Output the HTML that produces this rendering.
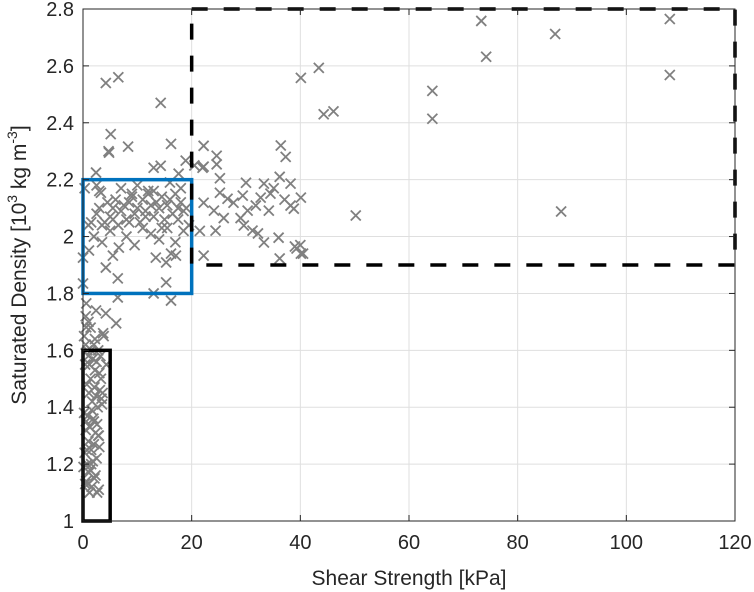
<!DOCTYPE html>
<html><head><meta charset="utf-8"><style>
html,body{margin:0;padding:0;background:#fff;}
svg{display:block;font-family:"Liberation Sans",Arial,sans-serif;}
</style></head><body>
<svg id="chart" width="754" height="592" viewBox="0 0 754 592" xmlns="http://www.w3.org/2000/svg">
<g id="grid"></g>
<g id="pts"></g>
<g id="boxes"></g>
<g id="axes"></g>
<text x="409" y="585" font-size="21" fill="#262626" text-anchor="middle">Shear Strength [kPa]</text>
<text transform="translate(26,265) rotate(-90)" font-size="21" fill="#262626" text-anchor="middle">Saturated Density [10<tspan font-size="14" dy="-9">3</tspan><tspan dy="9"> kg m</tspan><tspan font-size="14" dy="-9">-3</tspan><tspan dy="9">]</tspan></text>
</svg>
<script>
const xTicks=[0,20,40,60,80,100,120];
const yTicks=[1,1.2,1.4,1.6,1.8,2,2.2,2.4,2.6,2.8];
const yTickLabels=["1","1.2","1.4","1.6","1.8","2","2.2","2.4","2.6","2.8"];
const strength=[108,108,86.9,88,73.3,74.2,64.3,64.3,50.2,43.4,40.1,44.3,46.1,40,40.5,39,36.4,37.3,
4.8,8.3,16.2,2.4,13,14.3,18.9,17.6,22,3.3,6.6,13.4,4.2,6.4,15.3,16.2,17.1,15.3,5.5,1.1,0,0,6.4,13,16.2,0.6,2.4,4.2,6.1,0.6,3.7,
4.2,6.5,14.3,5.1,4.7,
22.2,24.6,22.2,24.6,25.2,30,33.3,38.2,25.2,35.1,34.5,40.1,26.6,27.7,29.4,22.2,32.7,31.8,38.2,38.8,24.1,34.2,30.3,25.9,29,29.6,24.4,31.2,32.2,33.3,36,39.3,40.1,22.2,36.2,36.2,37.1,20.5,21.5,
1.5,2.5,3,3.5,4.5,5,5.5,6,7,7.5,8,8.5,9,9.5,10,10.5,11,11.5,12,12.5,13,13.5,14,14.5,15,15.5,16,16.5,17,17.5,18,18.5,19,2,3.5,5,6.5,8,9.5,11,12.5,14,15.5,17,18.5,1,3,7,10,12,16,18,2.5,5.5,8.5,11.5,14.5,17.5,19.5,4,9,13,
0.3,0.5,0.8,1,1.2,1.5,1.8,2,2.2,2.5,2.8,3,3.2,0.4,0.7,1.1,1.4,1.7,2.1,2.4,2.7,3.1,3.4,0.2,0.6,0.9,1.3,1.6,1.9,2.3,2.6,2.9,0.5,1,1.5,2,2.5,3,0.3,0.8,1.3,1.8,2.3,0.1,0.6,1.1,1.6,2.1,2.6,3.3,3.6,0.4,1.2,2,2.8,0.7,1.5,0.2,1,0.5,1.4,2.2,3.8,4.3,3.5,2.9,0.9,1.7];
const density=[2.765,2.568,2.712,2.088,2.758,2.632,2.512,2.414,2.074,2.593,2.558,2.43,2.44,1.97,1.94,1.965,2.32,2.28,
2.295,2.316,2.326,2.225,2.242,2.249,2.267,2.221,2.242,2.154,1.961,1.926,1.891,1.853,1.839,1.94,1.933,1.909,1.933,1.951,1.926,1.835,1.786,1.8,1.775,1.765,1.74,1.73,1.695,1.681,1.66,
2.54,2.56,2.47,2.36,2.3,
2.319,2.284,2.246,2.254,2.205,2.189,2.186,2.186,2.154,2.17,2.151,2.137,2.133,2.119,2.144,2.119,2.137,2.109,2.109,2.098,2.091,2.091,2.091,2.065,2.065,2.039,2.021,2.021,2.011,1.979,1.996,1.958,1.94,1.933,1.923,2.21,2.13,2.25,2.02,
2.05,2.08,2.1,2.04,2.12,2.07,2.1,2.13,2.09,2.11,2.06,2.12,2.14,2.08,2.1,2.05,2.13,2.09,2.15,2.11,2.07,2.12,2.1,2.14,2.06,2.11,2.13,2.08,2.15,2.1,2.12,2.09,2.1,2.0,1.98,2.02,2.04,2.0,1.97,2.03,2.01,1.99,2.03,1.98,2.02,2.04,2.16,2.17,2.18,2.16,2.19,2.17,2.18,2.06,2.05,2.07,2.03,2.06,2.04,2.05,2.15,2.16,2.17,
1.62,1.6,1.58,1.55,1.6,1.57,1.62,1.53,1.56,1.6,1.52,1.58,1.55,1.48,1.45,1.5,1.42,1.47,1.44,1.4,1.46,1.43,1.38,1.35,1.37,1.33,1.39,1.36,1.31,1.34,1.3,1.32,1.28,1.25,1.27,1.22,1.26,1.24,1.2,1.18,1.21,1.16,1.19,1.14,1.17,1.12,1.15,1.1,1.5,1.45,1.13,1.1,1.35,1.3,1.25,1.2,1.65,1.7,1.72,1.68,1.64,1.65,1.55,1.41,1.11,1.13];
const NS="http://www.w3.org/2000/svg";
const L=83,R=735,T=9,B=521;
const xs=v=>L+(v-0)/120*(R-L);
const ys=v=>B-(v-1)/1.8*(B-T);
function mk(tag,attrs,parent){const e=document.createElementNS(NS,tag);for(const k in attrs)e.setAttribute(k,attrs[k]);parent.appendChild(e);return e;}
const grid=document.getElementById('grid'),axes=document.getElementById('axes'),pts=document.getElementById('pts'),boxes=document.getElementById('boxes');
xTicks.forEach(t=>{
 const g=mk('line',{x1:xs(t),x2:xs(t),y1:T,y2:B,stroke:'#dfdfdf','stroke-width':1},grid);
 
 
 mk('line',{x1:xs(t),x2:xs(t),y1:B,y2:B-6,stroke:'#262626','stroke-width':1},axes);
 mk('line',{x1:xs(t),x2:xs(t),y1:T,y2:T+6,stroke:'#262626','stroke-width':1},axes);
 const tx=mk('text',{x:xs(t),y:B+28,'font-size':20,fill:'#262626','text-anchor':'middle'},axes);
 tx.textContent=t;
 
 
});
yTicks.forEach((t,i)=>{
 const g=mk('line',{x1:L,x2:R,y1:ys(t),y2:ys(t),stroke:'#dfdfdf','stroke-width':1},grid);
 
 
 mk('line',{x1:L,x2:L+6,y1:ys(t),y2:ys(t),stroke:'#262626','stroke-width':1},axes);
 mk('line',{x1:R,x2:R-6,y1:ys(t),y2:ys(t),stroke:'#262626','stroke-width':1},axes);
 const tx=mk('text',{x:L-9,y:ys(t)+7,'font-size':20,fill:'#262626','text-anchor':'end'},axes);
 tx.textContent=yTickLabels[i];
 
 
});
const frame=mk('rect',{x:L,y:T,width:R-L,height:B-T,fill:'none',stroke:'#262626','stroke-width':1},axes);


for(let i=0;i<strength.length;i++){
 const x=xs(strength[i]),y=ys(density[i]),s=5;
 const p=mk('path',{d:`M${x-s},${y-s}L${x+s},${y+s}M${x-s},${y+s}L${x+s},${y-s}`,stroke:'#808080','stroke-width':1.8,fill:'none'},pts);
 
 
}
const b1=mk('rect',{x:xs(0),y:ys(1.6),width:xs(5)-xs(0),height:ys(1)-ys(1.6),fill:'none',stroke:'#000','stroke-width':3.5},boxes);


const b2=mk('rect',{x:xs(0),y:ys(2.2),width:xs(20)-xs(0),height:ys(1.8)-ys(2.2),fill:'none',stroke:'#0072BD','stroke-width':3.5},boxes);


const b3=mk('rect',{x:xs(20),y:ys(2.8),width:xs(120)-xs(20),height:ys(1.9)-ys(2.8),fill:'none',stroke:'#000','stroke-width':3.5,'stroke-dasharray':'16,16'},boxes);


</script>
</body></html>
